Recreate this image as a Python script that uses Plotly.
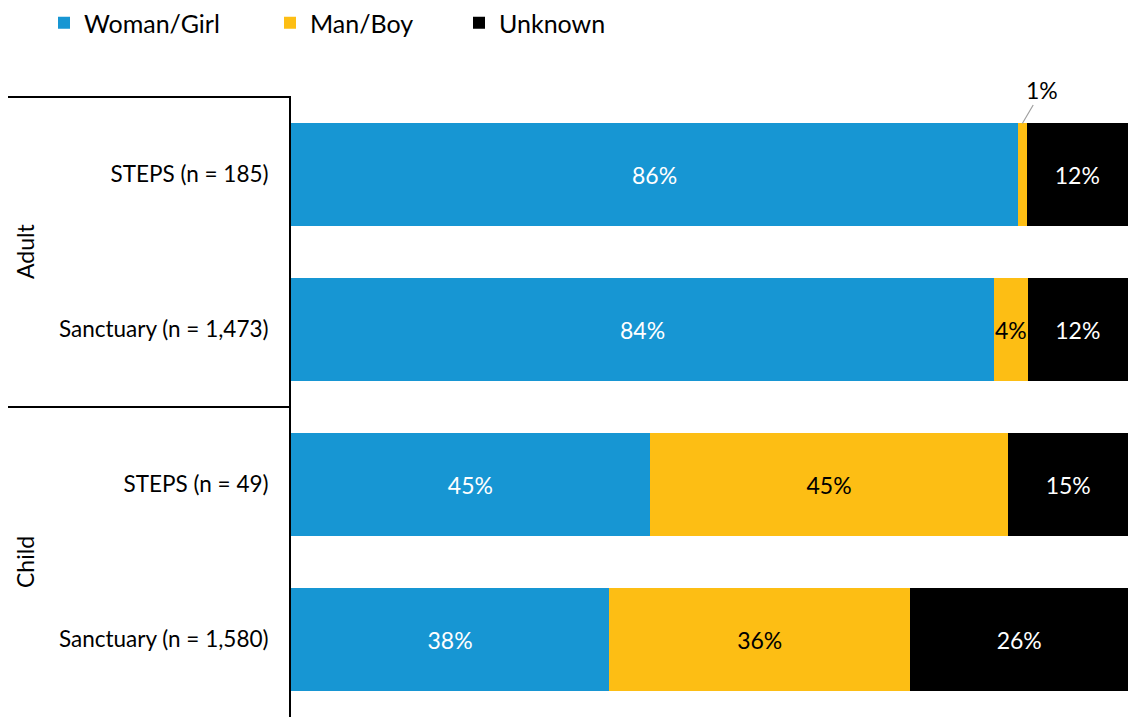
import plotly.graph_objects as go

categories = ["STEPS (n = 185)", "Sanctuary (n = 1,473)", "STEPS (n = 49)", "Sanctuary (n = 1,580)"]
groups = ["Adult", "Child"]
woman = [86, 84, 45, 38]
man = [1, 4, 45, 36]
unknown = [12, 12, 15, 26]

series = [
    ("Woman/Girl", woman, "#1796D3", "white"),
    ("Man/Boy", man, "#FDBE14", "black"),
    ("Unknown", unknown, "#000000", "white"),
]
legend_ids = ["legend", "legend2", "legend3"]
legend_x_px = [44, 270, 459]

FONT = "Lato, 'Open Sans', sans-serif"
W, H = 1128, 717

fig = go.Figure()
for (name, vals, col, tcol), lid in zip(series, legend_ids):
    texts = []
    for i, v in enumerate(vals):
        total = woman[i] + man[i] + unknown[i]
        texts.append("" if v / total < 0.03 else f"{v}%")
    fig.add_trace(go.Bar(
        y=categories, x=vals, name=name, orientation="h", legend=lid,
        marker=dict(color=col, line=dict(width=0)),
        text=texts, textposition="inside", insidetextanchor="middle",
        textangle=0, constraintext="none",
        textfont=dict(color=tcol, size=23, family=FONT),
    ))

# leader label for tiny slice
i = 0
total0 = woman[i] + man[i] + unknown[i]
xpos = (woman[i] + man[i] / 2) / total0 * 100
fig.add_annotation(x=xpos, y=categories[i], yshift=51, text=f"{man[i]}%",
                   showarrow=True, arrowhead=0, arrowwidth=1.2, arrowcolor="#a0a0a0",
                   ax=20, ay=-34, standoff=0,
                   font=dict(size=23, color="black", family=FONT))

# group labels and separators
span = 291 - 8
for k, g in enumerate(groups):
    fig.add_annotation(xref="paper", yref="paper", x=-(291 - 25) / 837, y=1 - (0.25 + 0.5 * k),
                       text=g, textangle=-90, showarrow=False, xanchor="center", yanchor="middle",
                       font=dict(size=23, color="black", family=FONT))
for yy in [1.0, 0.5]:
    fig.add_shape(type="line", xref="paper", yref="paper", x0=-span / 837, x1=0, y0=yy, y1=yy,
                  line=dict(color="black", width=2))

legends = {}
for lid, lx in zip(legend_ids, legend_x_px):
    legends[lid] = dict(orientation="h", xref="container", yref="container",
                        x=lx / W, y=1.0, xanchor="left", yanchor="top",
                        font=dict(size=25, family=FONT, color="black"),
                        bgcolor="rgba(0,0,0,0)")

fig.update_layout(
    barmode="stack", barnorm="percent", bargap=0.335,
    width=W, height=H,
    margin=dict(l=291, r=0, t=97, b=0),
    plot_bgcolor="white", paper_bgcolor="white",
    font=dict(family=FONT, size=22, color="black"),
    showlegend=True,
    xaxis=dict(range=[0, 100], showticklabels=False, showgrid=False, zeroline=False, showline=False),
    yaxis=dict(autorange="reversed", showline=True, linecolor="black", linewidth=2,
               ticks="", ticklabelstandoff=16, showgrid=False,
               tickfont=dict(size=22.5, family=FONT, color="black")),
    **legends,
)
fig.write_html("out.html")
